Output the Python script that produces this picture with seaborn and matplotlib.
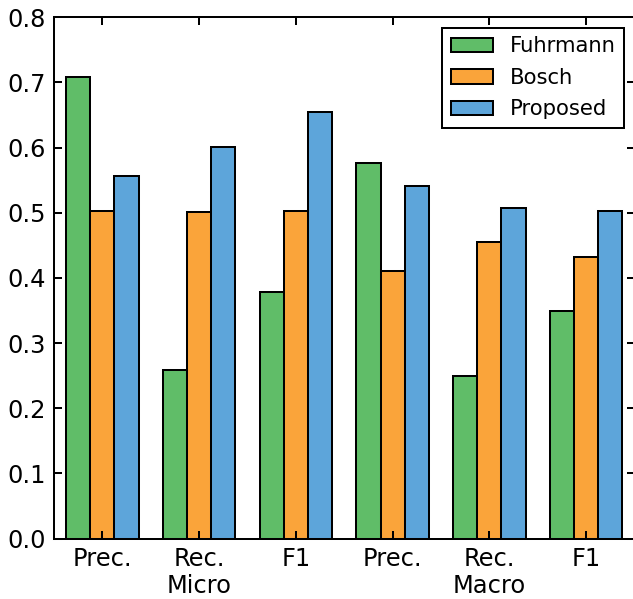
"""Micro / macro precision, recall and F1 for three methods as grouped bars."""

import matplotlib

matplotlib.use("Agg")

import matplotlib.pyplot as plt
import numpy as np
import pandas as pd
import seaborn as sns
from matplotlib.ticker import FormatStrFormatter

# category keys (unique) and the labels shown under each group
metrics = ["micro_prec", "micro_rec", "micro_f1", "macro_prec", "macro_rec", "macro_f1"]
tick_labels = ["Prec.", "Rec.\nMicro", "F1", "Prec.", "Rec.\nMacro", "F1"]

methods = ["Fuhrmann", "Bosch", "Proposed"]
fuhrmann = [0.708, 0.258, 0.378, 0.577, 0.249, 0.349]
bosch = [0.503, 0.501, 0.503, 0.410, 0.455, 0.432]
proposed = [0.556, 0.601, 0.655, 0.541, 0.508, 0.502]

colors = ["#60BD68", "#FAA43A", "#5DA5DA"]

# the original looks like a 12pt plot rendered at ~145 dpi; scale to 100 dpi
S = 1.446


def main():
    df = pd.DataFrame(
        {
            "metric": metrics * 3,
            "score": fuhrmann + bosch + proposed,
            "method": np.repeat(methods, len(metrics)),
        }
    )

    sns.set_style("ticks")
    plt.rcParams["font.family"] = ["DejaVu Sans"]
    plt.rcParams["text.color"] = "black"

    fig = plt.figure(figsize=(6.33, 5.99), dpi=100)
    ax = fig.add_axes([54 / 633, 1 - 538.5 / 599, 580.5 / 633, 521.2 / 599])

    sns.barplot(
        data=df,
        x="metric",
        y="score",
        hue="method",
        order=metrics,
        hue_order=methods,
        palette=colors,
        width=0.75,
        saturation=1,
        errorbar=None,
        edgecolor="black",
        linewidth=1.0 * S,
        ax=ax,
    )

    ax.set(xlabel="", ylabel="")
    ax.set_xlim(-0.5, 5.5)
    ax.set_ylim(0, 0.8)
    ax.set_yticks(np.arange(0, 0.81, 0.1))
    ax.yaxis.set_major_formatter(FormatStrFormatter("%.1f"))
    ax.set_xticks(range(len(metrics)))
    ax.set_xticklabels(tick_labels)

    # ticks sit on top of the bars, like the classic matplotlib look
    ax.set_axisbelow(False)
    for bar in ax.patches:
        bar.set_zorder(1)
    ax.xaxis.set_zorder(3)
    ax.yaxis.set_zorder(3)

    ax.tick_params(
        direction="in",
        top=True,
        right=True,
        length=4 * S,
        width=1.0 * S,
        labelsize=12 * S,
        pad=4 * S,
        colors="black",
    )
    for spine in ax.spines.values():
        spine.set_visible(True)
        spine.set_color("black")
        spine.set_linewidth(1.0 * S)

    leg = ax.legend(
        loc="upper right",
        fontsize=10.5 * S,
        fancybox=False,
        framealpha=1,
        edgecolor="black",
        borderaxespad=0.5,
        borderpad=0.4,
        labelspacing=0.55,
        handlelength=2.0,
        handletextpad=0.8,
    )
    leg.get_frame().set_linewidth(1.0 * S)
    leg.set_zorder(5)
    for txt in leg.get_texts():
        txt.set_color("black")

    fig.savefig("out.png", dpi=100)
    plt.close(fig)


if __name__ == "__main__":
    main()
